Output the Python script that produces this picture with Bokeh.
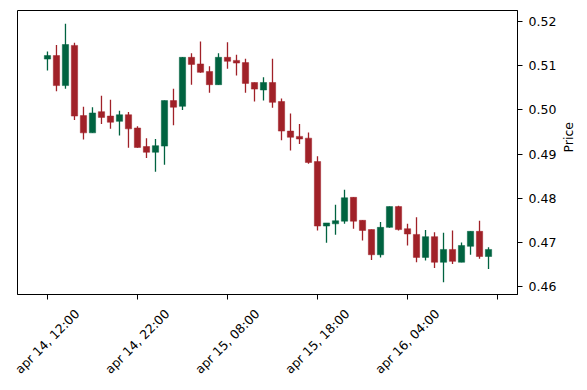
import math
from bokeh.plotting import figure
from bokeh.models import (Range1d, FixedTicker, LinearAxis,
                          ColumnDataSource, NumeralTickFormatter)
from bokeh.embed import file_html
from bokeh.resources import INLINE

# ---- data (hourly candles, index-based x axis) ----
opens = [0.5115, 0.5123, 0.5055, 0.5146, 0.4987, 0.4948, 0.4996, 0.4986, 0.4974, 0.4989,
         0.4959, 0.4917, 0.4904, 0.4918, 0.5021, 0.5008, 0.5119, 0.5104, 0.5087, 0.5057,
         0.5119, 0.5112, 0.5107, 0.5062, 0.5045, 0.5062, 0.5019, 0.4952, 0.4940, 0.4936,
         0.4883, 0.4737, 0.4742, 0.4748, 0.4802, 0.4750, 0.4729, 0.4672, 0.4734, 0.4781,
         0.4731, 0.4718, 0.4666, 0.4713, 0.4655, 0.4684, 0.4655, 0.4691, 0.4725, 0.4668]
highs = [0.5132, 0.5147, 0.5195, 0.5152, 0.5007, 0.5006, 0.5032, 0.5023, 0.4998, 0.4995,
         0.4963, 0.4936, 0.4934, 0.5021, 0.5048, 0.5120, 0.5128, 0.5155, 0.5099, 0.5128,
         0.5153, 0.5125, 0.5116, 0.5062, 0.5074, 0.5116, 0.5026, 0.4992, 0.4968, 0.4949,
         0.4895, 0.4744, 0.4785, 0.4819, 0.4802, 0.4750, 0.4729, 0.4746, 0.4781, 0.4783,
         0.4742, 0.4757, 0.4728, 0.4723, 0.4722, 0.4727, 0.4700, 0.4725, 0.4749, 0.4689]
lows = [0.5089, 0.5042, 0.5048, 0.4977, 0.4933, 0.4948, 0.4968, 0.4957, 0.4942, 0.4914,
        0.4914, 0.4891, 0.4860, 0.4876, 0.4965, 0.5000, 0.5057, 0.5084, 0.5039, 0.5057,
        0.5093, 0.5078, 0.5039, 0.5019, 0.5021, 0.5005, 0.4931, 0.4908, 0.4923, 0.4878,
        0.4727, 0.4699, 0.4717, 0.4742, 0.4731, 0.4704, 0.4660, 0.4666, 0.4733, 0.4727,
        0.4693, 0.4655, 0.4659, 0.4642, 0.4610, 0.4651, 0.4655, 0.4672, 0.4663, 0.4640]
closes = [0.5123, 0.5055, 0.5148, 0.4986, 0.4948, 0.4993, 0.4983, 0.4972, 0.4989, 0.4957,
          0.4915, 0.4904, 0.4919, 0.5021, 0.5006, 0.5119, 0.5103, 0.5085, 0.5057, 0.5119,
          0.5110, 0.5106, 0.5060, 0.5047, 0.5062, 0.5017, 0.4952, 0.4938, 0.4934, 0.4881,
          0.4737, 0.4744, 0.4749, 0.4801, 0.4748, 0.4727, 0.4672, 0.4734, 0.4781, 0.4729,
          0.4719, 0.4666, 0.4713, 0.4655, 0.4684, 0.4657, 0.4693, 0.4725, 0.4668, 0.4684]

tick_positions = [0, 10, 20, 30, 40, 50]
tick_labels = ["apr 14, 12:00", "apr 14, 22:00", "apr 15, 08:00",
               "apr 15, 18:00", "apr 16, 04:00", ""]
price_ticks = [0.46, 0.47, 0.48, 0.49, 0.50, 0.51, 0.52]

UP = "#006340"
DOWN = "#A02128"
FONT = "DejaVu Sans"
FS = "12.5px"
LABEL_SHIFT = 3.3  # rotated labels are centred on their tick, as in the original

idx = list(range(len(opens)))
colors = [UP if c >= o else DOWN for o, c in zip(opens, closes)]
src = ColumnDataSource(dict(
    x=idx, o=opens, h=highs, l=lows, c=closes, color=colors,
    top=[max(o, c) for o, c in zip(opens, closes)],
    bottom=[min(o, c) for o, c in zip(opens, closes)],
))

p = figure(width=587, height=390, output_backend="svg", toolbar_location=None,
           x_range=Range1d(-3.33, 52.22), y_range=Range1d(0.4582, 0.5225),
           x_axis_location=None, y_axis_location=None,
           min_border_left=17, min_border_right=70, min_border_top=10, min_border_bottom=96)
p.xgrid.visible = False
p.ygrid.visible = False
p.background_fill_color = "white"
p.border_fill_color = "white"
p.outline_line_color = "black"
p.outline_line_width = 1

p.segment(x0="x", y0="l", x1="x", y1="h", color="color", line_width=1.3, source=src)
p.vbar(x="x", width=0.7, top="top", bottom="bottom", fill_color="color",
       line_color="color", line_width=0.5, source=src)

yax = LinearAxis(ticker=FixedTicker(ticks=price_ticks),
                 formatter=NumeralTickFormatter(format="0.00"))
yax.major_label_text_font = FONT
yax.major_label_text_font_size = FS
yax.major_label_text_color = "black"
yax.major_tick_out = 5
yax.major_tick_in = 0
yax.minor_tick_out = 0
yax.minor_tick_in = 0
yax.major_label_standoff = 6
yax.axis_line_color = "black"
yax.axis_label = "Price"
yax.axis_label_text_font = FONT
yax.axis_label_text_font_size = FS
yax.axis_label_text_font_style = "normal"
yax.axis_label_text_color = "black"
yax.axis_label_standoff = 9
if "axis_label_orientation" in yax.properties():
    yax.axis_label_orientation = math.pi / 2
p.add_layout(yax, "right")

# tick marks
xax = LinearAxis(ticker=FixedTicker(ticks=tick_positions),
                 major_label_overrides={t: "" for t in tick_positions})
xax.major_tick_out = 5
xax.major_tick_in = 0
xax.minor_tick_out = 0
xax.minor_tick_in = 0
xax.major_label_standoff = 0
xax.major_label_text_font_size = "1px"
xax.axis_line_color = "black"
p.add_layout(xax, "below")

# rotated tick labels
lab_ticks = [t + LABEL_SHIFT for t in tick_positions[:-1]]
xlab = LinearAxis(ticker=FixedTicker(ticks=lab_ticks),
                  major_label_overrides={lt: l for lt, l in zip(lab_ticks, tick_labels[:-1])})
xlab.axis_line_color = None
xlab.major_tick_line_color = None
xlab.minor_tick_line_color = None
xlab.major_tick_out = 0
xlab.major_tick_in = 0
xlab.minor_tick_out = 0
xlab.minor_tick_in = 0
xlab.major_label_orientation = math.pi / 4
xlab.major_label_standoff = 12
xlab.major_label_text_font = FONT
xlab.major_label_text_font_size = FS
xlab.major_label_text_color = "black"
p.add_layout(xlab, "below")

open("out.html", "w").write(file_html(p, INLINE))
